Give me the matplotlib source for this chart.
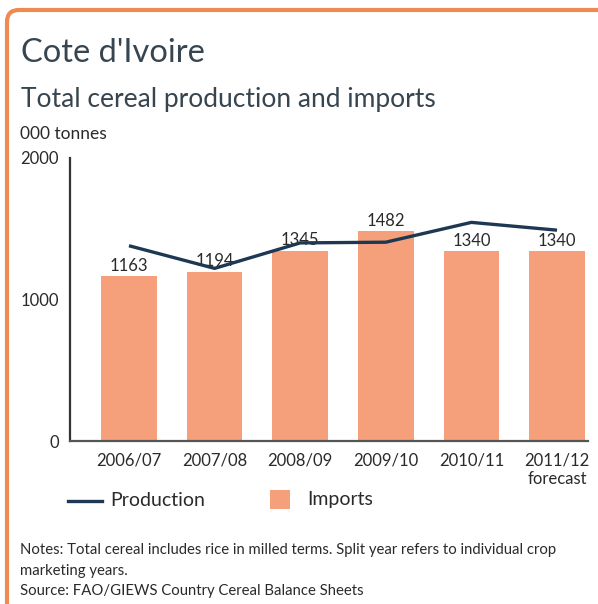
import matplotlib
matplotlib.use("Agg")
import matplotlib.pyplot as plt
from matplotlib.patches import PathPatch, Rectangle
from matplotlib.path import Path
from matplotlib.lines import Line2D

plt.rcParams['font.family'] = ['Lato', 'DejaVu Sans']

categories = ["2006/07", "2007/08", "2008/09", "2009/10", "2010/11", "2011/12\nforecast"]
imports = [1163, 1194, 1345, 1482, 1340, 1340]
production = [1380, 1220, 1400, 1405, 1545, 1490]
yticks = [0, 1000, 2000]

W, H = 598, 604
fig = plt.figure(figsize=(W/100, H/100), dpi=100)
fig.patch.set_facecolor('white')

def fx(px): return px / W
def fy(py): return 1 - py / H

# orange frame (left + top with rounded corner)
r = 12
verts = [(fx(7), fy(604)), (fx(7), fy(10 + r)), (fx(7), fy(10)), (fx(7 + r), fy(10)), (fx(610), fy(10))]
codes = [Path.MOVETO, Path.LINETO, Path.CURVE3, Path.CURVE3, Path.LINETO]
fig.patches.append(PathPatch(Path(verts, codes), transform=fig.transFigure,
                             facecolor='none', edgecolor='#EE8A52', linewidth=3.0, zorder=0))

ax = fig.add_axes([fx(70), fy(441), fx(588) - fx(70), fy(158) - fy(441)])
x = list(range(len(categories)))
bar_color = '#F5A07A'
line_color = '#1E3853'
text_color = '#2a2a2a'
ax.bar(x, imports, width=0.65, color=bar_color, zorder=2)
for xi, v in zip(x, imports):
    ax.annotate(str(v), (xi, v), xytext=(0, 2), textcoords='offset points',
                ha='center', va='bottom', fontsize=12, color=text_color, zorder=3)
ax.plot(x, production, color=line_color, linewidth=2.4, zorder=4,
        solid_capstyle='butt')

ax.set_xlim(-0.689, 5.362)
ax.set_ylim(0, 2000)
ax.set_yticks(yticks)
ax.set_yticklabels([str(t) for t in yticks], fontsize=12, color=text_color)
ax.set_xticks(x)
ax.set_xticklabels(categories, fontsize=12, color=text_color, linespacing=1.25, va='top')
ax.tick_params(axis='x', length=0, pad=8)
ax.tick_params(axis='y', length=0, pad=8)
for s in ['top', 'right']:
    ax.spines[s].set_visible(False)
ax.spines['left'].set_color('#333333')
ax.spines['left'].set_linewidth(1.6)
ax.spines['bottom'].set_color('#555555')
ax.spines['bottom'].set_linewidth(1.6)
ax.set_facecolor('none')

# titles
title_color = '#36454f'
fig.text(fx(21), fy(62), "Cote d'Ivoire", fontsize=23.5, color=title_color, va='baseline', ha='left')
fig.text(fx(21), fy(107), "Total cereal production and imports", fontsize=19, color=title_color, va='baseline', ha='left')
fig.text(fx(20), fy(139), "000 tonnes", fontsize=12.5, color=text_color, va='baseline', ha='left')

# legend
fig.add_artist(Line2D([fx(68), fx(102)], [fy(501), fy(501)], transform=fig.transFigure,
                      color=line_color, linewidth=2.4))
fig.text(fx(110), fy(500), "Production", fontsize=14, color=text_color, va='center', ha='left')
fig.add_artist(Rectangle((fx(270), fy(509)), fx(290) - fx(270), fy(490) - fy(509),
                         transform=fig.transFigure, facecolor=bar_color, edgecolor='none'))
fig.text(fx(307), fy(500), "Imports", fontsize=14, color=text_color, va='center', ha='left')

# notes
notes_fs = 10.7
fig.text(fx(20), fy(550), "Notes: Total cereal includes rice in milled terms. Split year refers to individual crop",
         fontsize=notes_fs, color=text_color, va='center', ha='left')
fig.text(fx(20), fy(571), "marketing years.", fontsize=notes_fs, color=text_color, va='center', ha='left')
fig.text(fx(20), fy(591), "Source: FAO/GIEWS Country Cereal Balance Sheets", fontsize=notes_fs, color=text_color, va='center', ha='left')

fig.savefig("out.png", dpi=100)
